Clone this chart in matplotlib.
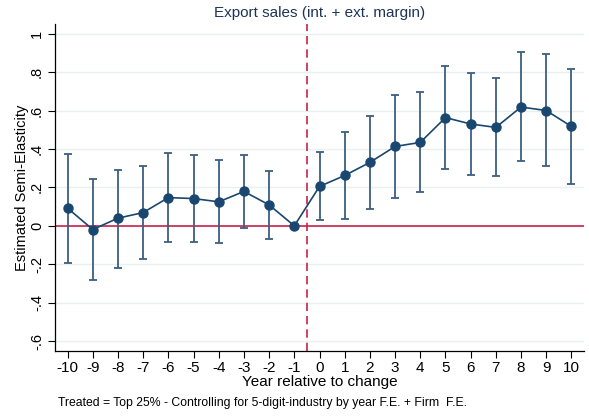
import numpy as np
import matplotlib
matplotlib.use("Agg")
import matplotlib.pyplot as plt

plt.rcParams['font.family'] = ['Liberation Sans', 'DejaVu Sans']

# event-time coefficients and 95% CI
years = [-10, -9, -8, -7, -6, -5, -4, -3, -2, -1, 0, 1, 2, 3, 4, 5, 6, 7, 8, 9, 10]
coef = [0.092, -0.019, 0.040, 0.069, 0.147, 0.142, 0.125, 0.179, 0.109, 0.0,
        0.205, 0.262, 0.330, 0.413, 0.434, 0.563, 0.530, 0.512, 0.618, 0.600, 0.517]
ci_hi = [0.373, 0.243, 0.293, 0.309, 0.378, 0.370, 0.340, 0.368, 0.283, 0.0,
         0.382, 0.486, 0.573, 0.682, 0.694, 0.830, 0.795, 0.767, 0.903, 0.894, 0.814]
ci_lo = [-0.191, -0.280, -0.219, -0.170, -0.082, -0.082, -0.090, -0.010, -0.066, 0.0,
         0.031, 0.038, 0.087, 0.146, 0.174, 0.295, 0.267, 0.257, 0.335, 0.311, 0.220]
yticks = [-0.6, -0.4, -0.2, 0, 0.2, 0.4, 0.6, 0.8, 1]
ytick_labels = ['-.6', '-.4', '-.2', '0', '.2', '.4', '.6', '.8', '1']

navy = '#1a476f'
bar_col = '#3d5f82'
red = '#c8234a'

fig = plt.figure(figsize=(5.89, 4.16), dpi=100)
ax = fig.add_axes([55/589, 65/416, 529/589, (351-24)/416])

x = np.array(years)
y = np.array(coef)
lo = np.array(ci_lo)
hi = np.array(ci_hi)
has_ci = hi != lo

ax.grid(axis='y', color='#e8f0f2', linewidth=1.0, zorder=0)
ax.axhline(0, color=red, linewidth=1.2, zorder=2)
ax.axvline(-0.5, color=red, linewidth=1.2, linestyle=(0, (5, 3)), zorder=2)

ax.errorbar(x[has_ci], y[has_ci], yerr=[y[has_ci] - lo[has_ci], hi[has_ci] - y[has_ci]],
            fmt='none', ecolor=bar_col, elinewidth=1.3, capsize=3, capthick=1.3, zorder=3)
ax.plot(x, y, color=navy, linewidth=1.2, marker='o', markersize=6.5,
        markerfacecolor=navy, markeredgecolor=navy, zorder=4)

ax.set_xlim(-10.5, 10.5)
ax.set_ylim(-0.651, 1.05)
ax.set_xticks(years)
ax.set_xticklabels([str(v) for v in years], fontsize=11)
ax.set_yticks(yticks)
ax.set_yticklabels(ytick_labels, fontsize=10.5, rotation=90, va='center')
ax.tick_params(axis='both', direction='out', length=5, width=0.8, color='black')
ax.tick_params(axis='x', pad=2)
ax.tick_params(axis='y', pad=3)

for s in ['top', 'right']:
    ax.spines[s].set_visible(False)
for s in ['left', 'bottom']:
    ax.spines[s].set_linewidth(0.9)

ax.set_xlabel('Year relative to change', fontsize=11, labelpad=0)
ax.set_ylabel('Estimated Semi-Elasticity', fontsize=10.5, labelpad=1)
ax.set_title('Export sales (int. + ext. margin)', fontsize=11, color='#1e3456', pad=5)

fig.text(58/589, 1 - 403/416, 'Treated = Top 25% - Controlling for 5-digit-industry by year F.E. + Firm  F.E.',
         fontsize=8.8, va='center', ha='left')

fig.savefig('out.png', dpi=100)
